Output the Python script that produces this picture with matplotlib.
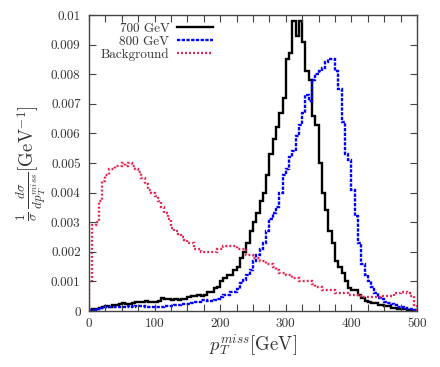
import numpy as np
import matplotlib
matplotlib.use("Agg")
import matplotlib.pyplot as plt
from matplotlib.ticker import MultipleLocator

plt.rcParams['font.family'] = 'serif'
plt.rcParams['font.serif'] = ['cmr10', 'DejaVu Serif']
plt.rcParams['mathtext.fontset'] = 'cm'
plt.rcParams['axes.formatter.use_mathtext'] = True

# histogram bins, 5 GeV wide from 0 to 500 GeV
bin_edges = np.arange(0, 505, 5)

# 700 GeV signal
sig700 = [
    0.00003, 0.00006, 0.00008, 0.00010, 0.00015, 0.00018, 0.00015, 0.00020, 0.00020, 0.00022,
    0.00026, 0.00022, 0.00022, 0.00028, 0.00030, 0.00030, 0.00032, 0.00033, 0.00032, 0.00032,
    0.00030, 0.00035, 0.00045, 0.00040, 0.00040, 0.00037, 0.00040, 0.00037, 0.00042, 0.00040,
    0.00048, 0.00050, 0.00050, 0.00054, 0.00052, 0.00055, 0.00065, 0.00065, 0.00077, 0.00080,
    0.00100, 0.00110, 0.00120, 0.00120, 0.00140, 0.00150, 0.00180, 0.00200, 0.00230, 0.00270,
    0.00300, 0.00330, 0.00370, 0.00400, 0.00460, 0.00530, 0.00580, 0.00620, 0.00670, 0.00720,
    0.00850, 0.00870, 0.00980, 0.00930, 0.00980, 0.00910, 0.00810, 0.00780, 0.00660, 0.00630,
    0.00500, 0.00400, 0.00340, 0.00270, 0.00230, 0.00170, 0.00150, 0.00130, 0.00100, 0.00077,
    0.00070, 0.00070, 0.00054, 0.00043, 0.00035, 0.00031, 0.00026, 0.00026, 0.00020, 0.00020,
    0.00017, 0.00017, 0.00011, 0.00010, 0.00007, 0.00007, 0.00006, 0.00004, 0.00003, 0.00002,
]

# 800 GeV signal
sig800 = [
    0.00002, 0.00005, 0.00007, 0.00010, 0.00010, 0.00012, 0.00013, 0.00012, 0.00015, 0.00015,
    0.00013, 0.00015, 0.00017, 0.00015, 0.00016, 0.00018, 0.00016, 0.00015, 0.00012, 0.00012,
    0.00013, 0.00015, 0.00015, 0.00017, 0.00018, 0.00018, 0.00020, 0.00020, 0.00022, 0.00022,
    0.00022, 0.00027, 0.00030, 0.00030, 0.00036, 0.00036, 0.00035, 0.00033, 0.00036, 0.00040,
    0.00048, 0.00054, 0.00054, 0.00065, 0.00065, 0.00076, 0.00093, 0.00105, 0.00120, 0.00140,
    0.00170, 0.00190, 0.00210, 0.00230, 0.00270, 0.00310, 0.00330, 0.00350, 0.00400, 0.00460,
    0.00480, 0.00520, 0.00540, 0.00590, 0.00630, 0.00670, 0.00730, 0.00710, 0.00780, 0.00800,
    0.00810, 0.00820, 0.00840, 0.00850, 0.00850, 0.00810, 0.00750, 0.00640, 0.00530, 0.00510,
    0.00410, 0.00320, 0.00230, 0.00160, 0.00120, 0.00100, 0.00080, 0.00060, 0.00045, 0.00040,
    0.00030, 0.00028, 0.00022, 0.00020, 0.00015, 0.00012, 0.00010, 0.00008, 0.00006, 0.00004,
]

# background
bkg = [
    0.00100, 0.00290, 0.00300, 0.00370, 0.00440, 0.00460, 0.00480, 0.00480, 0.00490, 0.00490,
    0.00500, 0.00490, 0.00500, 0.00490, 0.00480, 0.00470, 0.00450, 0.00430, 0.00410, 0.00400,
    0.00390, 0.00370, 0.00350, 0.00330, 0.00310, 0.00280, 0.00270, 0.00260, 0.00250, 0.00240,
    0.00230, 0.00230, 0.00210, 0.00210, 0.00200, 0.00200, 0.00200, 0.00200, 0.00200, 0.00210,
    0.00210, 0.00220, 0.00220, 0.00220, 0.00220, 0.00210, 0.00210, 0.00210, 0.00190, 0.00190,
    0.00180, 0.00180, 0.00170, 0.00170, 0.00160, 0.00160, 0.00150, 0.00140, 0.00130, 0.00130,
    0.00120, 0.00120, 0.00110, 0.00110, 0.00100, 0.00100, 0.00100, 0.00100, 0.00090, 0.00080,
    0.00080, 0.00070, 0.00070, 0.00070, 0.00070, 0.00060, 0.00060, 0.00060, 0.00060, 0.00055,
    0.00055, 0.00055, 0.00050, 0.00048, 0.00048, 0.00048, 0.00048, 0.00048, 0.00048, 0.00050,
    0.00050, 0.00050, 0.00050, 0.00060, 0.00060, 0.00065, 0.00065, 0.00060, 0.00050, 0.00020,
]

labels = ['700 GeV', '800 GeV', 'Background']
xticks = [0, 100, 200, 300, 400, 500]
yticks = [0, 0.001, 0.002, 0.003, 0.004, 0.005, 0.006, 0.007, 0.008, 0.009, 0.01]
ytick_labels = ['0', '0.001', '0.002', '0.003', '0.004', '0.005', '0.006', '0.007', '0.008', '0.009', '0.01']

fig = plt.figure(figsize=(4.4, 3.67), dpi=100)
ax = fig.add_axes([89 / 440, 56 / 367, 328 / 440, 296 / 367])

ax.stairs(sig700, bin_edges, color='black', lw=1.7, label=labels[0])
ax.stairs(sig800, bin_edges, color='#0000ff', lw=1.7, ls=(0, (1.4, 0.6)), label=labels[1])
ax.stairs(bkg, bin_edges, color='#e5224d', lw=1.7, ls=(0, (0.8, 0.9)), label=labels[2])

ax.set_xlim(0, 500)
ax.set_ylim(0, 0.01)
ax.set_xticks(xticks)
ax.set_xticklabels([str(t) for t in xticks])
ax.xaxis.set_minor_locator(MultipleLocator(25))
ax.set_yticks(yticks)
ax.set_yticklabels(ytick_labels)
ax.tick_params(which='both', direction='in', top=True, right=True, colors='#444444',
               labelcolor='#333333', labelsize=9.5, width=0.8)
ax.tick_params(which='major', length=5)
ax.tick_params(which='minor', length=5)
ax.tick_params(axis='x', pad=5)
ax.tick_params(axis='y', pad=6)
for s in ax.spines.values():
    s.set_color('#444444')
    s.set_linewidth(1.0)

ax.set_xlabel(r'$p_T^{miss}$[GeV]', fontsize=13.5, color='#333333', labelpad=2)
ax.set_ylabel(r'$\frac{1}{\sigma}\,\frac{d\sigma}{dp_T^{miss}}$[GeV$^{-1}$]', fontsize=13.5,
              color='#333333', labelpad=2)

ax.legend(loc='upper right', bbox_to_anchor=(0.378, 0.975), frameon=False, markerfirst=False,
          fontsize=9.5, handlelength=2.7, handletextpad=0.6, labelspacing=0.05, borderpad=0,
          borderaxespad=0, labelcolor='#333333')

fig.savefig('out.png', dpi=100)
